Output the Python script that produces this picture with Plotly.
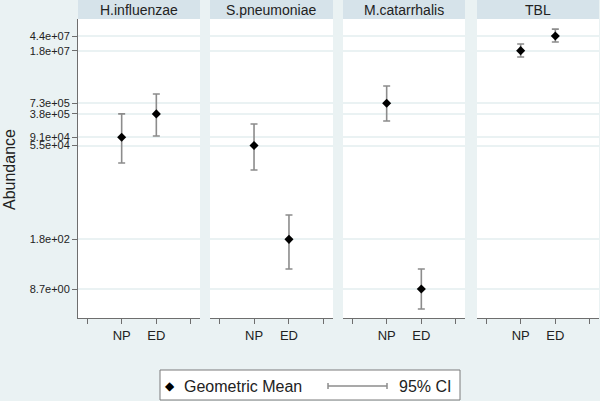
import plotly.graph_objects as go
from plotly.subplots import make_subplots

# ---- data ----
panels = ["H.influenzae", "S.pneumoniae", "M.catarrhalis", "TBL"]
groups = ["NP", "ED"]
group_pos = [1, 2]

np_mean = [9.1e4, 5.5e4, 7.3e5, 1.8e7]
np_lower = [1.9e4, 1.24e4, 2.46e5, 1.22e7]
np_upper = [3.8e5, 2.05e5, 2.08e6, 2.7e7]

ed_mean = [3.8e5, 1.8e2, 8.7e0, 4.4e7]
ed_lower = [9.9e4, 29.5, 2.57, 3.05e7]
ed_upper = [1.28e6, 795.0, 29.5, 6.7e7]

ytick_vals = [8.7, 180, 5.5e4, 9.1e4, 3.8e5, 7.3e5, 1.8e7, 4.4e7]
ytick_text = ["8.7e+00", "1.8e+02", "5.5e+04", "9.1e+04", "3.8e+05",
              "7.3e+05", "1.8e+07", "4.4e+07"]
xtick_vals = [0, 1, 2, 3]
xtick_text = ["", "NP", "ED", ""]

# ---- style ----
W, H = 600, 401
BG = "#EAF2F3"
STRIP = "#D6E3EA"
GRID = "#EAF2F3"
AXIS = "#6E6E6E"
CI_COLOR = "#8C8C8C"
FONT = "Liberation Sans, Arial, sans-serif"

panel_px = [(78, 200), (210, 333), (343, 465), (477, 599)]
plot_top, plot_bottom = 19, 318


def px(x):
    return x / W


def py(y):
    return 1 - y / H


fig = make_subplots(rows=1, cols=4, shared_yaxes=True)

for i, name in enumerate(panels):
    means = [np_mean[i], ed_mean[i]]
    plus = [np_upper[i] - np_mean[i], ed_upper[i] - ed_mean[i]]
    minus = [np_mean[i] - np_lower[i], ed_mean[i] - ed_lower[i]]
    fig.add_trace(
        go.Scatter(
            x=group_pos, y=means, mode="markers",
            marker=dict(symbol="diamond", size=7, color="black"),
            error_y=dict(type="data", symmetric=False, array=plus, arrayminus=minus,
                         color=CI_COLOR, thickness=1.6, width=3.5),
            showlegend=False, hoverinfo="skip",
        ),
        row=1, col=i + 1,
    )

for i, (x0, x1) in enumerate(panel_px):
    sfx = "" if i == 0 else str(i + 1)
    fig.layout["xaxis" + sfx].update(
        domain=[px(x0), px(x1)], range=[-0.26, 3.26],
        tickvals=xtick_vals, ticktext=xtick_text,
        ticks="outside", ticklen=5, tickcolor=AXIS, tickwidth=1,
        showline=True, linecolor=AXIS, linewidth=1,
        showgrid=False, zeroline=False,
        tickfont=dict(size=13, color="#222", family=FONT),
    )
    fig.layout["yaxis" + sfx].update(
        domain=[py(plot_bottom), py(plot_top)], type="log", range=[0.171, 8.094],
        tickvals=ytick_vals, ticktext=ytick_text,
        showgrid=True, gridcolor=GRID, gridwidth=1.5, zeroline=False,
        showline=(i == 0), linecolor=AXIS, linewidth=1,
        ticks="outside" if i == 0 else "", ticklen=5, tickcolor=AXIS,
        showticklabels=(i == 0),
        tickfont=dict(size=11, color="#222", family=FONT),
    )
    # header strip
    fig.add_shape(type="rect", xref="paper", yref="paper",
                  x0=px(x0), x1=px(x1), y0=py(plot_top), y1=1.0,
                  fillcolor=STRIP, line=dict(width=0), layer="below")
    fig.add_annotation(xref="paper", yref="paper", x=(px(x0) + px(x1)) / 2, y=py(10),
                       text=panels[i], showarrow=False, xanchor="center", yanchor="middle",
                       font=dict(size=14, color="#222", family=FONT))

# y title
fig.add_annotation(xref="paper", yref="paper", x=px(9), y=py(170), text="Abundance",
                   textangle=-90, showarrow=False, xanchor="center", yanchor="middle",
                   font=dict(size=16, color="#222", family=FONT))

# legend box (manual)
fig.add_shape(type="rect", xref="paper", yref="paper",
              x0=px(160), x1=px(460), y0=py(400), y1=py(370),
              fillcolor="white", line=dict(color="#7A7A7A", width=1))
fig.add_annotation(xref="paper", yref="paper", x=px(170), y=py(386), text="◆",
                   showarrow=False, xanchor="center", yanchor="middle",
                   font=dict(size=12, color="black", family="DejaVu Sans"))
fig.add_annotation(xref="paper", yref="paper", x=px(182), y=py(386), text="Geometric Mean",
                   showarrow=False, xanchor="left", yanchor="middle",
                   font=dict(size=16, color="#222", family=FONT))
fig.add_shape(type="line", xref="paper", yref="paper", x0=px(328), x1=px(387),
              y0=py(386), y1=py(386), line=dict(color=CI_COLOR, width=1.5))
for cx in (328, 387):
    fig.add_shape(type="line", xref="paper", yref="paper", x0=px(cx), x1=px(cx),
                  y0=py(383), y1=py(389), line=dict(color=CI_COLOR, width=1.5))
fig.add_annotation(xref="paper", yref="paper", x=px(397), y=py(386), text="95% CI",
                   showarrow=False, xanchor="left", yanchor="middle",
                   font=dict(size=16, color="#222", family=FONT))

fig.update_layout(
    width=W, height=H, margin=dict(l=0, r=0, t=0, b=0),
    paper_bgcolor=BG, plot_bgcolor="white", showlegend=False,
    font=dict(family=FONT),
)

fig.write_html(
    "out.html",
    config={"displayModeBar": False},
    post_script="document.body.style.margin='0';document.body.style.overflow='hidden';",
)
